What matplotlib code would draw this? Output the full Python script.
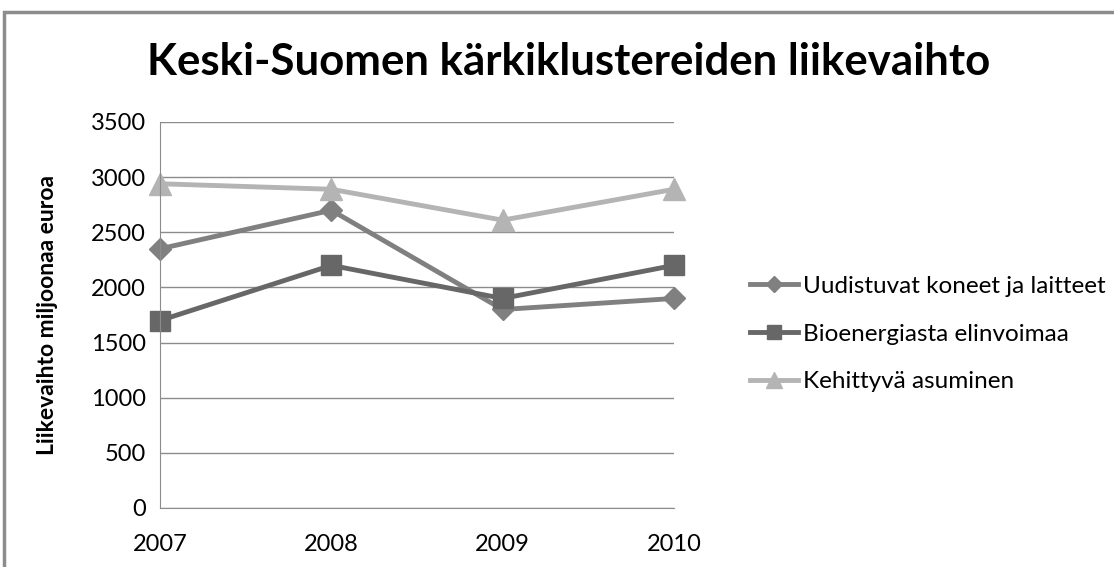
import matplotlib
matplotlib.use("Agg")
import matplotlib.pyplot as plt
from matplotlib.patches import Rectangle

years = ["2007", "2008", "2009", "2010"]
uudistuvat = [2350, 2700, 1800, 1900]
bioenergia = [1700, 2200, 1900, 2200]
kehittyva = [2940, 2890, 2610, 2890]
labels = ["Uudistuvat koneet ja laitteet", "Bioenergiasta elinvoimaa", "Kehittyvä asuminen"]
yticks = [0, 500, 1000, 1500, 2000, 2500, 3000, 3500]

fam = ["Lato", "DejaVu Sans"]
plt.rcParams['font.family'] = fam

fig = plt.figure(figsize=(11.14, 5.67), dpi=100)
fig.patches.append(Rectangle((4/1114, -0.05), 1.2, 1 - 12/567 + 0.05, transform=fig.transFigure,
                             fill=False, edgecolor="#8c8c8c", linewidth=2.5, figure=fig))

ax = fig.add_axes([160/1114, 1 - 508/567, (674-160)/1114, (508-122)/567])
x = list(range(len(years)))
ax.plot(x, uudistuvat, color="#808080", lw=3.5, marker="D", ms=11, label=labels[0], clip_on=False)
ax.plot(x, bioenergia, color="#676767", lw=3.5, marker="s", ms=14, label=labels[1], clip_on=False)
ax.plot(x, kehittyva, color="#b4b4b4", lw=3.5, marker="^", ms=16, label=labels[2], clip_on=False)

ax.set_xlim(0, 3)
ax.set_ylim(0, 3500)
ax.set_yticks(yticks)
ax.set_yticklabels([str(v) for v in yticks], fontsize=17)
ax.set_xticks(x)
ax.set_xticklabels(years, fontsize=17)
ax.tick_params(axis='both', length=0)
ax.tick_params(axis='y', pad=10)
ax.tick_params(axis='x', pad=19)
ax.grid(axis='y', color="#8c8c8c", lw=1)
ax.set_axisbelow(True)
for s in ["top", "right"]:
    ax.spines[s].set_visible(False)
ax.spines["left"].set_color("#8c8c8c")
ax.spines["bottom"].set_color("#8c8c8c")
ax.set_ylabel("Liikevaihto miljoonaa euroa", fontsize=16.5, fontweight="bold", labelpad=24)

fig.text(569/1114, 1 - 62/567, "Keski-Suomen kärkiklustereiden liikevaihto", ha="center", va="center",
         fontsize=31.5, fontweight="bold")

leg = ax.legend(loc="center left", bbox_to_anchor=(728/1114, 1 - 334/567), bbox_transform=fig.transFigure,
                frameon=False, fontsize=17.5, handlelength=2.0, labelspacing=1.1, handletextpad=0.2,
                markerscale=0.7)

fig.savefig("out.png", dpi=100)
